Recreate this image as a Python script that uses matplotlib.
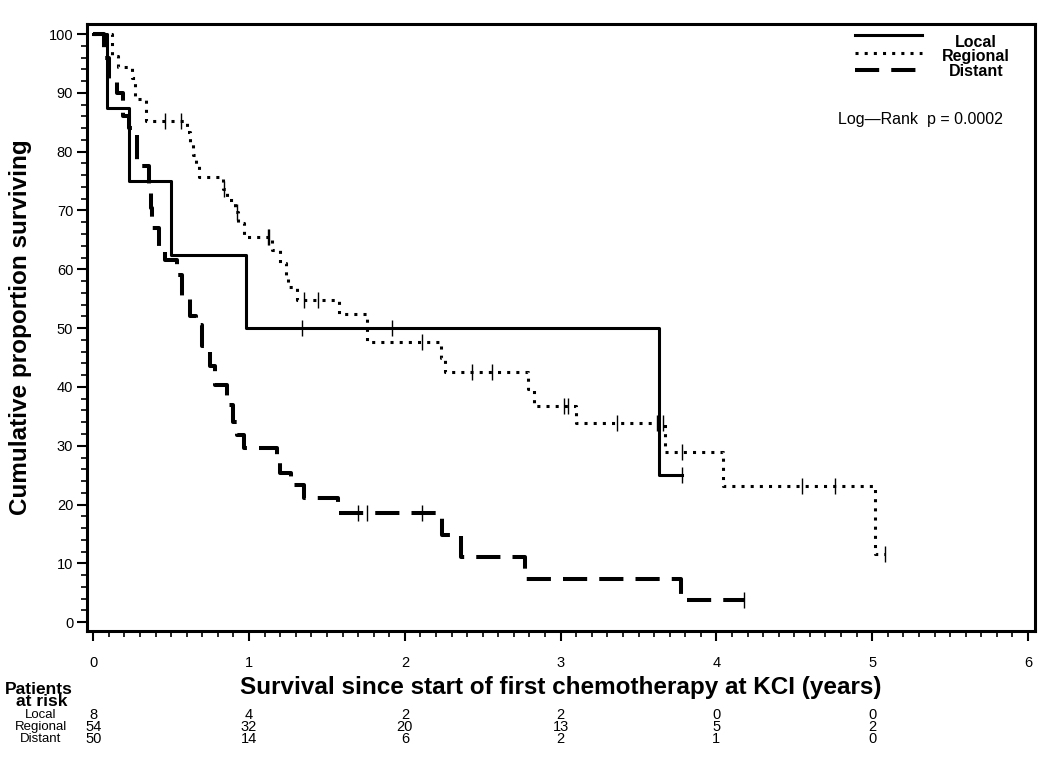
import numpy as np
import matplotlib
matplotlib.use('Agg')
import matplotlib.pyplot as plt
from matplotlib.lines import Line2D
from matplotlib.ticker import MultipleLocator
from matplotlib.transforms import blended_transform_factory

plt.rcParams['font.family'] = ['Liberation Sans', 'DejaVu Sans']

# Kaplan-Meier steps (years, % surviving)
local_t = [0, 0.09, 0.23, 0.50, 0.98, 3.63, 3.78]
local_s = [100, 87.5, 75, 62.5, 50, 25, 25]
local_cens = [1.34, 1.92, 3.78]

regional_t = [0, 0.12, 0.16, 0.25, 0.27, 0.34, 0.60, 0.62, 0.64, 0.66, 0.68,
              0.83, 0.86, 0.91, 0.93, 0.97, 1.15, 1.20, 1.24, 1.25, 1.31, 1.58,
              1.76, 2.23, 2.26, 2.79, 2.83, 3.10, 3.67, 4.04, 5.02, 5.08]
regional_s = [100, 96.3, 94.4, 92.6, 88.9, 85.2, 83.3, 81.4, 79.5, 77.6, 75.7,
              73.7, 71.8, 69.8, 67.8, 65.5, 63.2, 61.0, 58.9, 57.0, 54.8, 52.4,
              47.6, 45.0, 42.5, 39.7, 36.8, 33.8, 28.9, 23.1, 11.6, 11.6]
regional_cens = [0.46, 0.565, 0.84, 0.925, 1.12, 1.13, 1.355, 1.44, 2.11, 2.43,
                 2.56, 3.02, 3.05, 3.36, 3.62, 3.66, 3.78, 4.55, 4.76, 5.08]

distant_t = [0, 0.07, 0.10, 0.15, 0.19, 0.23, 0.28, 0.36, 0.37, 0.38, 0.42, 0.46,
             0.54, 0.57, 0.62, 0.66, 0.70, 0.75, 0.78, 0.86, 0.90, 0.92, 0.97,
             1.18, 1.20, 1.27, 1.35, 1.57, 2.24, 2.36, 2.77, 3.77, 4.18]
distant_s = [100, 96, 92, 90, 86, 84, 77.5, 74, 70.5, 67, 64, 61.5,
             59, 55, 52, 50.5, 47, 43.5, 40.3, 37, 34, 31.8, 29.6,
             27.5, 25.4, 23.3, 21.2, 18.5, 14.8, 11.1, 7.4, 3.7, 3.7]
distant_cens = [1.70, 1.76, 2.11, 4.18]

# patients at risk
risk_times = [0, 1, 2, 3, 4, 5]
risk_local = [8, 4, 2, 2, 0, 0]
risk_regional = [54, 32, 20, 13, 5, 2]
risk_distant = [50, 14, 6, 2, 1, 0]

groups = ['Local', 'Regional', 'Distant']

styles = {
    'Local': dict(lw=2.2, ls='-'),
    'Regional': dict(lw=2.2, ls=(0, (1, 2)), dash_capstyle='butt'),
    'Distant': dict(lw=2.9, ls=(0, (6, 3)), dash_capstyle='butt'),
}


def surv_at(times, surv, t):
    i = np.searchsorted(times, t, side='right') - 1
    return surv[i]


fig = plt.figure(figsize=(10.5, 7.7), dpi=100)
ax = fig.add_axes([0.0829, 0.1805, 0.9028, 0.7883])

curves = [(local_t, local_s, local_cens),
          (regional_t, regional_s, regional_cens),
          (distant_t, distant_s, distant_cens)]

for name, (t, s, cens) in zip(groups, curves):
    ax.step(t, s, where='post', color='black', **styles[name])
    cy = [surv_at(t, s, c) for c in cens]
    ax.plot(cens, cy, ls='none', marker='|', ms=11, mew=1.0, color='black')

ax.set_xlim(-0.04, 6.045)
ax.set_ylim(-1.5, 101.7)
ax.xaxis.set_major_locator(MultipleLocator(1))
ax.xaxis.set_minor_locator(MultipleLocator(0.1))
ax.yaxis.set_major_locator(MultipleLocator(10))
ax.yaxis.set_minor_locator(MultipleLocator(2))
ax.tick_params(which='major', direction='out', length=7, width=1.5,
               labelsize=10.5, pad=3)
ax.tick_params(which='minor', direction='out', length=4, width=1.2)
ax.tick_params(axis='x', which='major', pad=11)
for sp in ax.spines.values():
    sp.set_linewidth(2.2)

ax.set_ylabel('Cumulative proportion surviving', fontsize=17.5,
              fontweight='bold', labelpad=12)
ax.set_xlabel('Survival since start of first chemotherapy at KCI (years)',
              fontsize=17.5, fontweight='bold', labelpad=4)

# legend, drawn by hand
leg_y = [0.982, 0.952, 0.924]
for name, ly in zip(groups, leg_y):
    ax.add_line(Line2D([0.810, 0.881], [ly, ly], transform=ax.transAxes,
                       color='black', **styles[name]))
leg_text_y = [0.970, 0.946, 0.922]
for name, ty in zip(groups, leg_text_y):
    ax.text(0.938, ty, name, transform=ax.transAxes, ha='center',
            va='center', fontsize=11.5, fontweight='bold')
ax.text(0.966, 0.842, 'Log\u2014Rank  p = 0.0002', transform=ax.transAxes,
        ha='right', va='center', fontsize=11.5)

# at-risk table below the axis
tr = blended_transform_factory(ax.transData, fig.transFigure)
fig.text(0.037, 1 - 689 / 770, 'Patients', ha='center', va='center',
         fontsize=12.5, fontweight='bold')
fig.text(0.040, 1 - 702 / 770, 'at risk', ha='center', va='center',
         fontsize=12.5, fontweight='bold')
row_y = [1 - 715 / 770, 1 - 727 / 770, 1 - 739 / 770]
for name, counts, ry in zip(groups, [risk_local, risk_regional, risk_distant], row_y):
    fig.text(0.039, ry, name, ha='center', va='center', fontsize=9.5)
    for x, n in zip(risk_times, counts):
        ax.text(x, ry, str(n), transform=tr, ha='center', va='center',
                fontsize=10.5, clip_on=False)

fig.savefig('out.png', dpi=100)
